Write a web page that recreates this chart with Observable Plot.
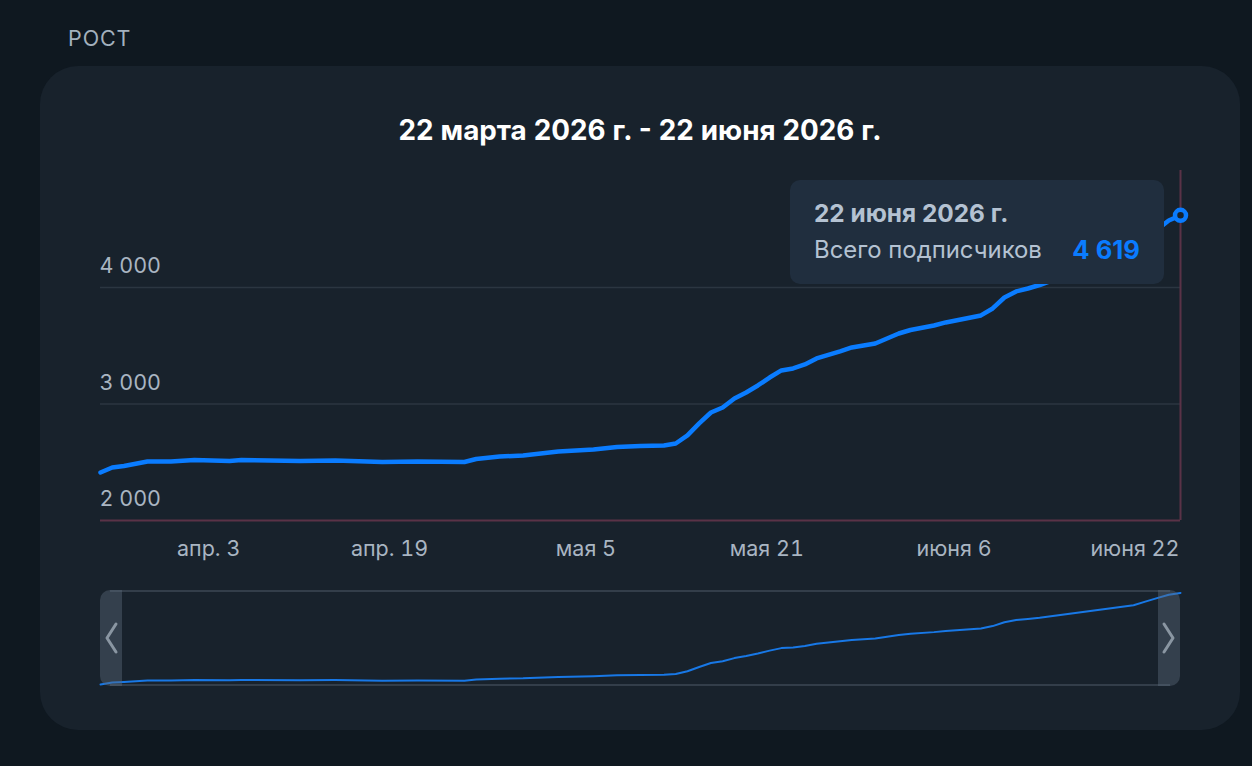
<!DOCTYPE html>
<html lang="ru"><head><meta charset="utf-8">
<script src="https://cdn.jsdelivr.net/npm/d3@7"></script>
<script src="https://cdn.jsdelivr.net/npm/@observablehq/plot@0.6"></script>
<style>
html,body{margin:0;padding:0;width:1252px;height:766px;overflow:hidden;background:#0f1820;font-family:Inter,"Noto Sans",sans-serif;}
#page{position:relative;width:1252px;height:766px;}
#sec{position:absolute;left:68px;top:24px;font-size:21.5px;line-height:28px;color:#a3b0bd;letter-spacing:.9px;}
#card{position:absolute;left:40px;top:66px;width:1200px;height:664px;border-radius:38px;background:#18222c;}
#title{position:absolute;left:40px;width:1200px;top:112px;text-align:center;font-size:27.8px;line-height:36px;font-weight:700;color:#fff;word-spacing:.4px;}
#main,#mini{position:absolute;left:0;}
#main{top:0}#mini{top:580px}
svg{display:block;background:transparent!important;}
#tip{position:absolute;left:790px;top:180px;width:374px;height:104px;border-radius:10px;background:#202e3e;color:#b4c2d2;font-size:23.9px;}
#tip .d{position:absolute;left:24px;top:17px;font-weight:700;line-height:32px;font-size:24.4px;word-spacing:0;}
#tip .l{position:absolute;left:24px;top:54px;line-height:32px;}
#tip .v{position:absolute;right:24px;top:54px;line-height:32px;font-weight:700;color:#0a7cff;font-size:25.6px;}
#frame{position:absolute;left:110px;top:590px;width:1060px;height:96px;box-sizing:border-box;border-top:2px solid #333e4a;border-bottom:2px solid #333e4a;}
.h{position:absolute;top:590px;width:22px;height:96px;background:rgba(92,108,124,.42);}
#hl{left:100px;border-radius:10px 0 0 10px}
#hr{left:1158px;border-radius:0 10px 10px 0}
#chev{position:absolute;left:0;top:0;pointer-events:none}
</style></head><body>
<div id="page">
<div id="sec">РОСТ</div>
<div id="card"></div>
<div id="title">22 марта 2026 г. - 22 июня 2026 г.</div>
<div id="frame"></div>
<div id="main"></div>
<div id="mini"></div>
<div class="h" id="hl"></div><div class="h" id="hr"></div>
<svg id="chev" width="1252" height="766" fill="none" stroke="#8a96a2" stroke-width="3" stroke-linecap="round" stroke-linejoin="round"><path d="M116 624L107 638L116 652"/><path d="M1164 624L1173 638L1164 652"/></svg>
<div id="tip"><div class="d">22 июня 2026 г.</div><div class="l">Всего подписчиков</div><div class="v">4 619</div></div>
</div>
<script>
const startDate = "2026-03-22";
const dayOffsets = [0,1,2,4,6,8,11,12,17,20,24,27,31,32,34,36,39,42,44,46,48,49,50,51,52,53,54,55,56,57,58,59,60,61,62,63,64,66,67,68,69,71,72,75,76,77,78,79,80,84,88,89,90,91,92];
const subscribers = [2412,2455,2468,2506,2506,2519,2511,2519,2511,2515,2502,2506,2502,2528,2549,2558,2592,2609,2631,2639,2644,2661,2730,2833,2927,2970,3047,3099,3159,3227,3288,3305,3339,3391,3421,3451,3485,3519,3562,3605,3635,3674,3700,3760,3820,3914,3966,3991,4021,4170,4322,4410,4495,4575,4619];
const tickDates = ["2026-04-03","2026-04-19","2026-05-05","2026-05-21","2026-06-06","2026-06-22"];
const tickLabels = ["апр. 3","апр. 19","мая 5","мая 21","июня 6","июня 22"];
const yTicks = [2000,3000,4000];
const yTickLabels = ["2 000","3 000","4 000"];

const t0 = new Date(startDate+"T00:00:00Z");
const data = dayOffsets.map((d,i)=>({date:new Date(+t0+d*864e5),value:subscribers[i]}));
const xt = tickDates.map(s=>new Date(s+"T00:00:00Z"));
const last = data[data.length-1];
const xDomain=[data[0].date,last.date];
const tc="#a9b5c2", blue="#0a7cff", axisCol="#5a3247", grid="#2b3641";

const main = Plot.plot({
  width:1252,height:580,marginLeft:100,marginRight:72,marginTop:170,marginBottom:60,
  style:{background:"transparent",fontFamily:"Inter,'Noto Sans',sans-serif"},
  x:{type:"utc",domain:xDomain},
  y:{domain:[2000,5004]},
  marks:[
    Plot.ruleY([3000,4000],{stroke:grid,strokeWidth:1.5}),
    Plot.ruleY([2000],{stroke:axisCol,strokeWidth:2}),
    Plot.ruleX([last.date],{stroke:axisCol,strokeWidth:2}),
    Plot.axisY({ticks:yTicks,tickSize:0,tickFormat:v=>yTickLabels[yTicks.indexOf(v)],textAnchor:"start",tickPadding:0,dx:-1,dy:-21,fontSize:21.5,color:tc,label:null,marginLeft:100,lineAnchor:"middle"}),
    Plot.axisX({ticks:xt,tickSize:0,tickPadding:0,tickFormat:v=>tickLabels[xt.findIndex(t=>+t===+v)],textAnchor:"end",dx:-1,dy:20,fontSize:21.5,color:tc,label:null}),
    Plot.line(data,{x:"date",y:"value",stroke:blue,strokeWidth:4.5,strokeLinejoin:"round",strokeLinecap:"round"}),
    Plot.dot([last],{x:"date",y:"value",r:5.5,fill:"#18222c",stroke:blue,strokeWidth:4.5})
  ]
});
document.getElementById("main").append(main);

const mini = Plot.plot({
  width:1252,height:120,marginLeft:100,marginRight:72,marginTop:11,marginBottom:14,
  style:{background:"transparent"},
  x:{type:"utc",domain:xDomain,axis:null},
  y:{domain:[2361,4655],axis:null},
  marks:[Plot.line(data,{x:"date",y:"value",stroke:"#1878e6",strokeWidth:2})]
});
document.getElementById("mini").append(mini);
</script>
</body></html>
